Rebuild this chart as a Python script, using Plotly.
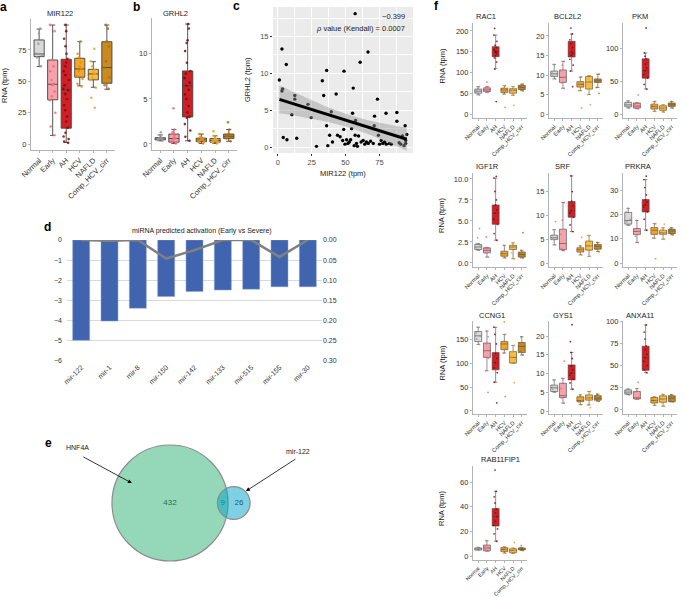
import math
import numpy as np
import plotly.graph_objects as go

W, H = 685, 597
FONT = "Liberation Sans"

GROUPS = ["Normal", "Early", "AH", "HCV", "NAFLD", "Comp_HCV_cirr"]
FILL = ["#d9d9d9", "#f4a3ab", "#d11f26", "#f5a623", "#fbbd3c", "#c98a21"]
PTCOL = ["#9a9a9a", "#f26d7d", "#7d0c10", "#e48c16", "#eda526", "#a86e14"]

# ---- panel a / b : box stats per group (Normal, Early, AH, HCV, NAFLD, Comp)
MIR122 = dict(
    q1=[69.7, 35.3, 12.7, 53.3, 51.2, 48.5],
    med=[71.8, 47.7, 43.2, 59.9, 55.9, 61.0],
    q3=[83.0, 67.0, 67.6, 68.4, 59.6, 81.6],
    lo=[61.8, 6.9, 1.3, 46.4, 45.3, 43.7],
    hi=[91.7, 94.9, 94.9, 81.6, 65.7, 94.9],
    pts=[[62, 69, 71, 72, 80, 83, 88, 92],
         [7, 14, 25, 35, 38, 42, 47, 48, 51, 58, 62, 67, 90, 95],
         [1, 2, 4, 6, 9, 13, 18, 22, 27, 31, 36, 40, 43, 44, 47, 51, 55, 58, 62, 65, 68, 72, 78, 84, 90, 95],
         [46, 48, 52, 54, 58, 60, 62, 65, 69, 72, 82],
         [29, 37, 45, 51, 53, 56, 57, 59, 62, 66, 76],
         [44, 47, 53, 61, 66, 78, 82, 92, 95]])
GRHL2 = dict(
    q1=[0.45, 0.2, 3.0, 0.25, 0.2, 0.6],
    med=[0.55, 0.6, 6.45, 0.45, 0.4, 0.85],
    q3=[0.7, 1.1, 8.1, 0.65, 0.6, 1.1],
    lo=[0.35, 0.05, 0.35, 0.05, 0.05, 0.3],
    hi=[1.0, 1.6, 13.3, 1.1, 0.9, 1.6],
    pts=[[0.35, 0.45, 0.5, 0.55, 0.6, 0.7, 1.0, 1.3],
         [0.05, 0.15, 0.2, 0.3, 0.5, 0.6, 0.7, 0.9, 1.1, 1.3, 1.6, 3.95],
         [0.35, 0.8, 1.5, 2.2, 2.9, 3.0, 3.5, 4.2, 5.0, 5.5, 6.0, 6.45, 6.8, 7.3, 7.8, 8.1, 9.0, 10.3, 11.2, 11.5, 12.8, 13.3],
         [0.05, 0.2, 0.25, 0.35, 0.45, 0.5, 0.6, 0.65, 0.8, 1.1],
         [0.05, 0.15, 0.2, 0.3, 0.4, 0.45, 0.55, 0.6, 0.9, 1.4],
         [0.3, 0.6, 0.7, 0.85, 0.9, 1.0, 1.1, 1.6, 2.4]])

# ---- panel c : MIR122 vs GRHL2 per sample
C_X = [1.2, 3.1, 6.3, 3.6, 3.1, 4.1, 6.8, 10.4, 12.6, 12.6, 14.0, 22.3, 24.7, 28.6, 32.9, 33.9,
       36.1, 36.1, 37.0, 38.3, 39.5, 40.4, 43.1, 44.1, 46.0, 48.9, 48.7, 47.9, 49.6, 50.8, 51.8,
       52.8, 53.8, 54.5, 55.2, 55.7, 57.1, 57.1, 57.4, 56.4, 58.1, 58.8, 59.6, 60.8, 61.5, 63.0,
       64.2, 65.4, 66.6, 66.8, 68.5, 70.5, 71.4, 71.2, 73.6, 74.3, 75.1, 76.3, 77.5, 78.9, 79.9,
       80.1, 82.3, 83.8, 87.9, 87.9, 89.6, 90.8, 92.0, 94.0, 95.2, 94.4, 93.2, 94.4]
C_Y = [9.1, 13.3, 11.2, 7.9, 7.6, 1.3, 1.0, 4.4, 7.0, 6.5, 1.2, 5.8, 4.0, 0.1, 9.0, 7.0,
       10.4, 2.9, 0.2, 1.6, 4.8, 0.7, 7.2, 1.6, 1.4, 10.3, 2.4, 0.9, 0.4, 1.0, 0.5,
       0.7, 1.0, 2.5, 4.6, 8.0, 18.1, 1.6, 3.6, 0.2, 0.5, 0.1, 1.5, 11.5, 0.7, 0.9,
       0.4, 0.7, 12.9, 0.5, 0.8, 0.5, 4.2, 2.9, 6.5, 1.6, 0.4, 0.9, 0.5, 0.7, 4.6,
       0.4, 0.5, 0.4, 4.7, 3.5, 0.6, 0.4, 1.5, 2.9, 1.7, 0.5, 0.2, 0.9]

# ---- panel d : predicted activation
MIRNA = ["mir-122", "mir-1", "mir-8", "mir-150", "mir-142", "mir-133", "mir-515", "mir-155", "mir-30"]
ACTIVATION = [-4.97, -4.02, -3.38, -2.80, -2.55, -2.48, -2.44, -2.32, -2.32]
PVALUE = [0.0, 0.002, 0.0, 0.046, 0.025, 0.0, 0.0, 0.042, 0.0]

# ---- panel e : Venn counts
ONLY_HNF4A, BOTH, ONLY_MIR122 = 432, 9, 26

# ---- panel f : genes
F_GENES = ["RAC1", "BCL2L2", "PKM", "IGF1R", "SRF", "PRKRA", "CCNG1", "GYS1", "ANXA11", "RAB11FIP1"]
F_STATS = {
    "RAC1": dict(q1=[50, 54, 138, 52, 50, 59], med=[55, 58, 150, 58, 57, 64], q3=[60, 63, 162, 62, 61, 69],
                 lo=[46, 52, 110, 48, 45, 56], hi=[66, 66, 190, 68, 66, 72],
                 pts=[[46, 52, 55, 58, 62, 66], [52, 55, 58, 60, 63, 66, 77],
                      [30, 108, 125, 135, 140, 145, 148, 150, 152, 155, 160, 165, 175, 190, 206],
                      [16, 48, 53, 56, 58, 60, 63, 68], [21, 45, 50, 55, 58, 61, 66], [56, 60, 63, 65, 68, 72]]),
    "BCL2L2": dict(q1=[9.6, 8.1, 14.6, 6.9, 6.4, 8.1], med=[10.3, 9.4, 15.6, 7.6, 8.2, 8.5],
                   q3=[11.0, 11.3, 18.6, 8.3, 9.6, 9.0], lo=[9.0, 6.6, 11.0, 6.0, 5.0, 6.8],
                   hi=[12.7, 13.5, 20.5, 9.5, 9.8, 10.2],
                   pts=[[9.0, 9.8, 10.3, 10.8, 12.7], [6.6, 8.0, 9.4, 11, 12.5, 13.5],
                        [7.0, 11, 12.5, 14, 15, 15.5, 16, 17, 18, 19, 20.5, 22],
                        [1.6, 6.0, 7, 7.6, 8.2, 9.5], [2.4, 5.0, 6.5, 8.2, 9.0, 9.8], [5.3, 6.8, 8.2, 8.5, 8.9, 10.2]]),
    "PKM": dict(q1=[11, 9, 54.5, 7.6, 5.6, 11.6], med=[14, 12, 66, 11.5, 9, 14], q3=[17.7, 16.7, 84, 15, 12.6, 16.7],
                lo=[9, 8, 38, 4, 3, 9], hi=[20, 17, 93, 19, 14, 19],
                pts=[[9, 12, 14, 17, 20], [8, 10, 12, 15, 17, 29], [38, 45, 55, 60, 66, 70, 76, 84, 88, 93, 131],
                     [4, 8, 11, 13, 15, 19], [3, 6, 8, 10, 12, 14], [9, 12, 14, 16, 19]]),
    "IGF1R": dict(q1=[1.6, 1.2, 4.6, 0.8, 1.6, 0.7], med=[1.9, 1.5, 5.9, 1.1, 1.9, 1.0],
                  q3=[2.2, 1.8, 6.9, 1.4, 2.1, 1.3], lo=[1.5, 0.7, 2.7, 0.6, 0.5, 0.6],
                  hi=[2.3, 1.8, 10.1, 2.1, 2.4, 1.5],
                  pts=[[1.5, 1.8, 2.0, 2.3, 3.0, 4.1], [0.7, 1.2, 1.5, 1.8, 3.1],
                       [2.7, 3.5, 4.6, 5.2, 5.9, 6.3, 6.9, 7.5, 8.5, 10.1, 10.3],
                       [0.6, 0.9, 1.1, 1.3, 2.1], [0.5, 1.2, 1.9, 2.0, 2.4], [0.6, 0.8, 1.0, 1.2, 1.5, 3.6]]),
    "SRF": dict(q1=[4.9, 2.8, 9.6, 2.3, 2.7, 2.9], med=[5.3, 4.1, 10.9, 2.8, 3.6, 3.5],
                q3=[5.85, 7.1, 12.9, 3.2, 4.6, 3.9], lo=[3.8, 2.6, 6.6, 1.7, 1.4, 2.4],
                hi=[7.0, 12.7, 18.3, 3.6, 5.8, 4.3],
                pts=[[3.8, 5.0, 5.3, 5.8, 7.0, 8.7], [2.6, 3.0, 4.1, 6, 9, 12.7],
                     [6.6, 8, 9.6, 10.5, 11, 12, 13, 15, 18.3], [1.7, 2.4, 2.8, 3.1, 3.6, 5.4],
                     [1.4, 2.7, 3.6, 4.5, 5.8], [2.4, 3.0, 3.5, 3.8, 4.3]]),
    "PRKRA": dict(q1=[16, 11.7, 21, 11.8, 11.8, 12.1], med=[17.5, 13, 23.7, 13.5, 12.4, 13.2],
                  q3=[20.8, 14.2, 26.1, 14.6, 13.5, 13.9], lo=[15.5, 8.5, 13.5, 10.2, 9.8, 11.6],
                  hi=[22.5, 17.5, 34.3, 16.2, 14.5, 14.5],
                  pts=[[15.5, 17, 18, 21, 22.5], [8.5, 11, 13, 14, 17.5],
                       [13.5, 18, 21, 23, 24, 25, 26, 28, 31, 34.3, 35.7],
                       [1.8, 10.2, 12, 13.5, 14.5, 16.2], [9.8, 12, 12.4, 13.5, 14.5, 16], [11.6, 12.5, 13.2, 13.9, 14.5]]),
    "CCNG1": dict(q1=[145, 112, 86, 128, 100, 122], med=[157, 126, 101, 140, 112, 135], q3=[166, 142, 122, 145, 124, 143],
                  lo=[139, 84, 60, 121, 100, 117], hi=[175, 167, 175, 160, 137, 155],
                  pts=[[139, 150, 157, 163, 175], [39, 84, 110, 126, 140, 155, 167],
                       [17, 60, 80, 90, 101, 110, 120, 140, 160, 175], [30, 121, 132, 140, 146, 160, 186],
                       [59, 100, 108, 113, 124, 137], [117, 125, 135, 142, 155]]),
    "GYS1": dict(q1=[5.2, 3.6, 8.3, 2.5, 2.9, 2.9], med=[6.2, 4.1, 10.1, 2.8, 3.5, 3.4],
                 q3=[6.9, 7.4, 12.3, 3.8, 4.3, 4.1], lo=[5.0, 2.1, 5.8, 1.7, 1.6, 2.6],
                 hi=[8.3, 8.7, 15.6, 4.3, 5.2, 4.5],
                 pts=[[5, 5.8, 6.2, 6.8, 8.3], [2.1, 3.5, 4.1, 6, 8.7, 13.3],
                      [5.8, 7.5, 8.5, 9.5, 10.1, 11, 12, 14, 15.6, 18.5, 23],
                      [1.7, 2.4, 2.8, 3.5, 4.3], [0.9, 1.6, 3.0, 3.5, 4.2, 5.2], [2.6, 3.0, 3.4, 4.0, 4.5]]),
    "ANXA11": dict(q1=[17.7, 12.2, 44.6, 7.7, 8.5, 9.2], med=[20, 13.5, 59, 10.5, 12.2, 13],
                   q3=[22.5, 20.7, 72, 14, 15.8, 15.8], lo=[17, 12, 42, 5, 4, 9], hi=[23.5, 24, 96, 14.5, 17.5, 17],
                   pts=[[17, 19, 20, 22, 23.5], [12, 13, 14, 20, 24, 31],
                        [42, 45, 50, 55, 59, 63, 68, 72, 80, 88, 96],
                        [5, 8, 10, 12, 14.5], [4, 8, 12, 15, 17.5], [9, 11, 13, 15, 17]]),
    "RAB11FIP1": dict(q1=[4.9, 4.2, 24.3, 3.6, 2.7, 5.0], med=[5.9, 6.5, 32, 5.4, 4.6, 5.9],
                      q3=[6.6, 8.9, 38.6, 6.8, 5.9, 6.5], lo=[5.0, 4.0, 12, 2.4, 2.2, 4.5],
                      hi=[7.0, 12.4, 52.5, 7.4, 6.5, 6.8],
                      pts=[[5, 5.6, 5.9, 6.3, 7], [4, 5, 6.5, 8, 12.4],
                           [12, 18, 22, 25, 28, 32, 35, 38, 43, 48, 52.5, 69.7],
                           [2.4, 4, 5.4, 6.5, 7.4], [2.2, 3.5, 4.6, 5.5, 6.5, 11], [4.5, 5.5, 5.9, 6.5, 8.5]]),
}
F_RANGES = {"RAC1": [-9.6, 219], "BCL2L2": [-1.0, 23.3], "PKM": [-6.1, 138.6], "IGF1R": [-0.48, 10.7],
            "SRF": [-0.84, 18.9], "PRKRA": [-1.6, 37], "CCNG1": [-6.3, 188], "GYS1": [-0.8, 24],
            "ANXA11": [-4.8, 100.5], "RAB11FIP1": [-3.2, 73]}
F_TICKS = {"RAC1": [0, 50, 100, 150, 200], "BCL2L2": [0, 5, 10, 15, 20], "PKM": [0, 50, 100],
           "IGF1R": [0, 2.5, 5, 7.5, 10], "SRF": [0, 5, 10, 15], "PRKRA": [0, 10, 20, 30],
           "CCNG1": [0, 50, 100, 150], "GYS1": [0, 5, 10, 15, 20], "ANXA11": [0, 25, 50, 75, 100],
           "RAB11FIP1": [0, 20, 40, 60]}


def xr(n): return "x" if n == 1 else f"x{n}"
def yr(n): return "y" if n == 1 else f"y{n}"
def xk(n): return "xaxis" if n == 1 else f"xaxis{n}"
def yk(n): return "yaxis" if n == 1 else f"yaxis{n}"
def hx(x0, x1): return [x0 / W, x1 / W]
def vy(y0, y1): return [1 - y1 / H, 1 - y0 / H]


fig = go.Figure()
layout = dict(template="none", width=W, height=H, margin=dict(l=0, r=0, t=0, b=0, pad=0),
              paper_bgcolor="white", plot_bgcolor="rgba(0,0,0,0)", showlegend=False,
              font=dict(family=FONT, color="#333"), annotations=[], shapes=[], boxmode="overlay")
ann = layout["annotations"]


def text(x, y, s, size=7.5, color="#1a1a1a", angle=0, xanchor="center", bold=False):
    ann.append(dict(x=x / W, y=1 - y / H, xref="paper", yref="paper", text=f"<b>{s}</b>" if bold else s,
                    showarrow=False, font=dict(size=size, color=color, family=FONT), textangle=angle,
                    xanchor=xanchor, yanchor="middle"))


def box_panel(xn, yn, st, xd, yd, yrange, tickvals, tickfs, catfs, bw, ms, lw, ticktext=None):
    for i, g in enumerate(GROUPS):
        fig.add_trace(go.Box(x=[g], q1=[st["q1"][i]], median=[st["med"][i]], q3=[st["q3"][i]],
                             lowerfence=[st["lo"][i]], upperfence=[st["hi"][i]], orientation="v",
                             boxpoints=False, fillcolor=FILL[i], line=dict(color="#444444", width=lw),
                             width=bw, whiskerwidth=0.5, xaxis=xr(xn), yaxis=yr(yn)))
        fig.add_trace(go.Box(x=[g] * len(st["pts"][i]), y=st["pts"][i], orientation="v", boxpoints="all",
                             jitter=0.7, pointpos=0, fillcolor="rgba(0,0,0,0)",
                             line=dict(width=0, color="rgba(0,0,0,0)"), width=bw,
                             marker=dict(size=ms, color=PTCOL[i], opacity=0.85),
                             hoverinfo="y", xaxis=xr(xn), yaxis=yr(yn)))
    layout[xk(xn)] = dict(domain=hx(*xd), anchor=yr(yn), type="category", categoryorder="array",
                          categoryarray=GROUPS, range=[-0.6, 5.6], showline=True, linecolor="#b3b3b3",
                          linewidth=1.2, ticks="outside", ticklen=2, tickcolor="#b3b3b3", tickangle=-45,
                          tickfont=dict(size=catfs, color="#333"), showgrid=False, zeroline=False,
                          automargin=False)
    layout[yk(yn)] = dict(domain=vy(*yd), anchor=xr(xn), range=yrange, tickvals=tickvals,
                          ticktext=ticktext, showline=True, linecolor="#b3b3b3", linewidth=1.2,
                          ticks="outside", ticklen=2, tickcolor="#b3b3b3",
                          tickfont=dict(size=tickfs, color="#333"), showgrid=False, zeroline=False,
                          automargin=False)


# ---------- a, b
box_panel(1, 1, MIR122, (31, 115), (19, 150), [-4.7, 99.7], [0, 25, 50, 75], 7.5, 7.5, 0.75, 2.6, 0.9)
box_panel(2, 2, GRHL2, (152, 237), (18, 150), [-0.67, 13.97], [0, 5, 10], 7.5, 7.5, 0.75, 2.6, 0.9)
text(4, 7, "a", 12, "black", bold=True)
text(136, 7, "b", 12, "black", bold=True)
text(60, 13, "MIR122", 7.5)
text(175, 13, "GRHL2", 7.5)
text(5, 85, "RNA (tpm)", 7.5, angle=-90)

# ---------- c
cx, cy = np.array(C_X), np.array(C_Y)
slope, icpt = np.polyfit(cx, cy, 1)
xs = np.linspace(cx.min(), cx.max(), 60)
yhat = icpt + slope * xs
res = cy - (icpt + slope * cx)
s = math.sqrt((res ** 2).sum() / (len(cx) - 2))
se = s * np.sqrt(1 / len(cx) + (xs - cx.mean()) ** 2 / ((cx - cx.mean()) ** 2).sum())
band_x = np.concatenate([xs, xs[::-1]])
band_y = np.concatenate([yhat + 1.99 * se, (yhat - 1.99 * se)[::-1]])
fig.add_trace(go.Scatter(x=C_X, y=C_Y, mode="markers", marker=dict(size=3.4, color="black"),
                         xaxis="x3", yaxis="y3"))
fig.add_trace(go.Scatter(x=band_x, y=band_y, fill="toself", fillcolor="rgba(150,150,150,0.45)",
                         line=dict(width=0), mode="lines", xaxis="x3", yaxis="y3", hoverinfo="skip"))
fig.add_trace(go.Scatter(x=xs, y=yhat, mode="lines", line=dict(color="black", width=3),
                         xaxis="x3", yaxis="y3"))
grid = dict(showgrid=True, gridcolor="white", gridwidth=1, zeroline=False, ticks="outside", ticklen=2,
            tickcolor="#333", tickfont=dict(size=7.5, color="#4d4d4d"), showline=False, automargin=False)
layout["xaxis3"] = dict(domain=hx(273, 413), anchor="y3", range=[-3.5, 99.8], tick0=0, dtick=25,
                        minor=dict(dtick=12.5, showgrid=True, gridcolor="white", gridwidth=0.5), **grid)
layout["yaxis3"] = dict(domain=vy(7, 153), anchor="x3", range=[-0.8, 19.0], tick0=0, dtick=5,
                        minor=dict(dtick=2.5, showgrid=True, gridcolor="white", gridwidth=0.5), **grid)
layout["shapes"].append(dict(type="rect", xref="x3 domain", yref="y3 domain", x0=0, x1=1, y0=0, y1=1,
                             fillcolor="#ebebeb", line=dict(width=0), layer="below"))
text(236, 6, "c", 12, "black", bold=True)
text(407, 17, "\u22120.399", 7.5, xanchor="right")
text(407, 29, "<i>\u03c1</i> value (Kendall) = 0.0007", 7.5, xanchor="right")
text(343, 174, "MIR122 (tpm)", 7.5)
text(247, 80, "GRHL2 (tpm)", 7.5, angle=-90)

# ---------- d
fig.add_trace(go.Bar(x=MIRNA, y=ACTIVATION, marker=dict(color="#4064ae", line=dict(color="#8aa2d4", width=0.5)),
                     width=0.6, xaxis="x4", yaxis="y4"))
fig.add_trace(go.Scatter(x=MIRNA, y=PVALUE, mode="lines", line=dict(color="#808080", width=2.5),
                         xaxis="x4", yaxis="y5"))
layout["xaxis4"] = dict(domain=hx(67, 322), anchor="y4", type="category", range=[-0.5, 8.5], tickangle=-45,
                        tickfont=dict(size=7, color="#333"), showgrid=False, zeroline=False, showline=False,
                        ticks="", automargin=False)
layout["yaxis4"] = dict(domain=vy(240, 361), anchor="x4", range=[-6, 0], dtick=1, showgrid=True,
                        gridcolor="#d9d9d9", gridwidth=1, zeroline=False, tickfont=dict(size=7, color="#333"),
                        ticks="", ticklabelstandoff=4, automargin=False)
layout["yaxis5"] = dict(overlaying="y4", anchor="x4", side="right", range=[0.3, 0],
                        tickvals=[0, 0.05, 0.1, 0.15, 0.2, 0.25, 0.3], tickformat=".2f", showgrid=False,
                        zeroline=False, tickfont=dict(size=7, color="#333"), ticks="", automargin=False)
text(47, 227, "d", 12, "black", bold=True)
text(202, 231, "miRNA predicted activation (Early vs Severe)", 7)

# ---------- e  (area-proportional Venn)
n1, n2 = ONLY_HNF4A + BOTH, ONLY_MIR122 + BOTH
r1, r2 = math.sqrt(n1), math.sqrt(n2)


def lens(d):
    a = r1 ** 2 * math.acos((d * d + r1 * r1 - r2 * r2) / (2 * d * r1))
    b = r2 ** 2 * math.acos((d * d + r2 * r2 - r1 * r1) / (2 * d * r2))
    c = 0.5 * math.sqrt((-d + r1 + r2) * (d + r1 - r2) * (d - r1 + r2) * (d + r1 + r2))
    return a + b - c


lo_d, hi_d = r1 - r2 + 1e-6, r1 + r2 - 1e-6
for _ in range(80):
    mid = (lo_d + hi_d) / 2
    if lens(mid) > math.pi * BOTH:
        lo_d = mid
    else:
        hi_d = mid
dist = (lo_d + hi_d) / 2
layout["shapes"] += [
    dict(type="circle", xref="x5", yref="y6", x0=-r1, x1=r1, y0=-r1, y1=r1,
         fillcolor="rgba(41,177,115,0.5)", line=dict(color="#8c8c8c", width=1.2)),
    dict(type="circle", xref="x5", yref="y6", x0=dist - r2, x1=dist + r2, y0=-r2, y1=r2,
         fillcolor="rgba(0,161,201,0.5)", line=dict(color="#8c8c8c", width=1.2)),
]
fig.add_trace(go.Scatter(x=[0, (dist - r2 + r1) / 2, (r1 + dist + r2) / 2], y=[0, 0, 0], mode="text",
                         text=[str(ONLY_HNF4A), str(BOTH), str(ONLY_MIR122)],
                         textfont=dict(size=8, color="#222", family=FONT), xaxis="x5", yaxis="y6"))
layout["xaxis5"] = dict(domain=hx(0, 430), anchor="y6", range=[-61.55, 94.14], visible=False)
layout["yaxis6"] = dict(domain=vy(400, 597), anchor="x5", range=[-34.03, 37.29], visible=False)
ann.append(dict(x=-13.8, y=7.2, xref="x5", yref="y6", ax=-50, ay=-27, axref="pixel", ayref="pixel",
                text="", showarrow=True, arrowhead=2, arrowsize=1, arrowwidth=0.8, arrowcolor="black"))
ann.append(dict(x=27.5, y=4.3, xref="x5", yref="y6", ax=51, ay=-33, axref="pixel", ayref="pixel",
                text="", showarrow=True, arrowhead=2, arrowsize=1, arrowwidth=0.8, arrowcolor="black"))
text(48, 443, "e", 12, "black", bold=True)
text(77, 447, "HNF4A", 7)
text(298, 451, "mir-122", 7)

# ---------- f
cols = [(473, 527), (549, 603), (623, 677)]
rows = [(23, 118), (173, 267), (321, 414), (466, 560)]
title_y = [17, 166, 315, 459]
title_x = [486, 567, 640, 487, 562, 638, 492, 563, 640, 500]
for k, gene in enumerate(F_GENES):
    r, c = divmod(k, 3)
    ticktext = ["0.0", "2.5", "5.0", "7.5", "10.0"] if gene == "IGF1R" else None
    box_panel(6 + k, 7 + k, F_STATS[gene], cols[c], rows[r], F_RANGES[gene], F_TICKS[gene],
              7.5, 5.8 if r < 3 else 5.4, 0.8, 1.8, 0.6, ticktext)
    text(title_x[k], title_y[r], gene, 7.5)
    if c == 0:
        text(442, (rows[r][0] + rows[r][1]) / 2 - 5, "RNA (tpm)", 7.5, angle=-90)
text(436, 6, "f", 12, "black", bold=True)

fig.update_layout(**layout)
# the page body has a default 8px margin; drop it so the figure sits at the window's corner
fig.write_html("out.html", config={"displayModeBar": False},
               post_script="document.body.style.margin='0';")
